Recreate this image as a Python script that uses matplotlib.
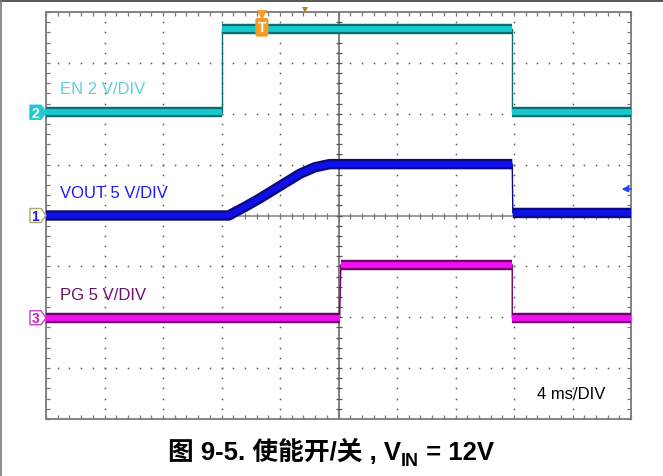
import numpy as np
import matplotlib
matplotlib.use("Agg")
import matplotlib.pyplot as plt
import matplotlib.transforms as mtransforms
from matplotlib.patches import Polygon
from matplotlib.lines import Line2D

plt.rcParams['font.family'] = ['Liberation Sans', 'DejaVu Sans']

# screen in divisions: x = time (4 ms/DIV), y = vertical division (0 = bottom)
en_t = [0, 3.01, 3.01, 7.97, 7.97, 10]
en_v = [6.03, 6.03, 7.67, 7.67, 6.03, 6.03]

vout_t = [0, 3.12, 3.40, 3.66, 4.00, 4.34, 4.60, 4.85, 7.97, 7.98, 10]
vout_v = [4.0, 4.0, 4.17, 4.34, 4.58, 4.82, 4.95, 5.01, 5.01, 4.05, 4.05]

pg_t = [0, 5.02, 5.04, 7.97, 7.97, 10]
pg_v = [1.99, 1.99, 3.03, 3.03, 1.99, 1.99]

labels = ['EN 2 V/DIV', 'VOUT 5 V/DIV', 'PG 5 V/DIV']
label_y = [6.50, 4.46, 2.44]
label_colors = ['#5fd0d8', '#1a1aff', '#6b0f6b']

W, H = 663, 477
fig = plt.figure(figsize=(W / 100, H / 100), dpi=100)
ax = fig.add_axes([46 / W, 1 - 420 / H, 585 / W, 407 / H])
ax.set_xlim(0, 10)
ax.set_ylim(0, 8)

# border with inward minor ticks
for s in ax.spines.values():
    s.set_color('#7a7a7a')
    s.set_linewidth(1.3)
ax.set_xticks(np.arange(0, 10.01, 0.2))
ax.set_yticks(np.arange(0, 8.01, 0.2))
ax.tick_params(direction='in', length=3, width=0.9, color='#777777',
               top=True, right=True, labelbottom=False, labelleft=False)

# dotted graticule
grid_c = '#555555'
pts_y = np.arange(0.2, 8, 0.2)
pts_x = np.arange(0.2, 10, 0.2)
for gx in [1, 2, 3, 4, 6, 7, 8, 9]:
    ax.plot(np.full(len(pts_y), gx), pts_y, ls='none', marker='s', ms=1.1,
            mew=0, color=grid_c, zorder=1)
for gy in [1, 2, 3, 5, 6, 7]:
    ax.plot(pts_x, np.full(len(pts_x), gy), ls='none', marker='s', ms=1.1,
            mew=0, color=grid_c, zorder=1)

# centre cross with ticks
ax.axvline(5, color='#6a6a6a', lw=1.2, zorder=1)
ax.axhline(4, color='#8a8a8a', lw=1.2, zorder=1)
ax.plot(pts_x, np.full(len(pts_x), 4), ls='none', marker='|', ms=5,
        mew=0.9, color='#777777', zorder=1)
ax.plot(np.full(len(pts_y), 5), pts_y, ls='none', marker='_', ms=5,
        mew=0.9, color='#555555', zorder=1)


def trace(t, v, dark, bright):
    t = np.asarray(t, float)
    v = np.asarray(v, float)
    idx = np.where(np.diff(t) < 0.05)[0] + 1
    tb = np.insert(t, idx, np.nan)
    vb = np.insert(v, idx, np.nan)
    ax.plot(t, v, color=dark, lw=1.0, zorder=3)
    ax.plot(tb, vb, color=dark, lw=7.5, solid_capstyle='butt', zorder=3)
    ax.plot(tb, vb, color=bright, lw=4.2, solid_capstyle='butt', zorder=4)


trace(en_t, en_v, '#0a6e70', '#14c8cc')
trace(vout_t, vout_v, '#0a0a80', '#1010e8')
trace(pg_t, pg_v, '#700070', '#f010f0')

for txt, y, c in zip(labels, label_y, label_colors):
    ax.text(0.24, y, txt, color=c, fontsize=12, va='center', ha='left')
ax.text(8.39, 0.51, '4 ms/DIV', color='black', fontsize=12, va='center', ha='left')


def ch_marker(y, num, face, edge, tc):
    tr = mtransforms.ScaledTranslation(0, y, ax.transData)
    verts = [(-16, -7), (-5, -7), (0, 0), (-5, 7), (-16, 7)]
    ax.add_patch(Polygon(verts, closed=True, transform=tr, clip_on=False,
                         fc=face, ec=edge, lw=1.0, zorder=6))
    ax.text(-10.5, -0.5, num, transform=tr, ha='center', va='center',
            color=tc, fontsize=10, fontweight='bold', clip_on=False, zorder=7)


ch_marker(en_v[0], '2', '#22c8d2', '#22c8d2', 'white')
ch_marker(vout_v[0], '1', 'white', '#a8a860', '#2020d0')
ch_marker(pg_v[0], '3', 'white', '#c040c0', '#c020c0')

# trigger markers
ax.plot(3.69, 7.94, marker='v', ms=7, color='#f39c26', mew=0, clip_on=False, zorder=8)
ax.text(3.69, 7.70, 'T', ha='center', va='center', color='white', fontsize=10,
        fontweight='bold', zorder=8,
        bbox=dict(boxstyle='round,pad=0.12', fc='#f39c26', ec='#f39c26'))
ax.plot(4.43, 8.03, marker='v', ms=4, color='#c08020', mew=0, clip_on=False, zorder=8)

# reference level arrow on the right
ax.annotate('', xy=(9.84, 4.52), xytext=(10.0, 4.52),
            arrowprops=dict(arrowstyle='-|>', color='#2040ff', lw=1.2,
                            mutation_scale=9, shrinkA=0, shrinkB=0))

# page frame lines
fig.add_artist(Line2D([0, 1], [1 - 1.5 / H, 1 - 1.5 / H], transform=fig.transFigure,
                      color='#555555', lw=1.4))
fig.add_artist(Line2D([1 / W, 1 / W], [0, 1], transform=fig.transFigure,
                      color='#777777', lw=1.2))

# caption with subscript
cap_font = ['Liberation Sans', 'Noto Sans CJK SC']
r = fig.canvas.get_renderer()
t1 = fig.text(0, 1 - 460 / H, '图 9-5. 使能开/关 , V', family=cap_font,
              fontsize=18.5, fontweight='bold', va='baseline', ha='left')
t2 = fig.text(0, 1 - 466 / H, 'IN', family=cap_font, fontsize=13,
              fontweight='bold', va='baseline', ha='left')
t3 = fig.text(0, 1 - 460 / H, ' = 12V', family=cap_font, fontsize=18.5,
              fontweight='bold', va='baseline', ha='left')
w1 = t1.get_window_extent(r).width
w2 = t2.get_window_extent(r).width
w3 = t3.get_window_extent(r).width
x0 = 331 - (w1 + w2 + w3) / 2
t1.set_x(x0 / W)
t2.set_x((x0 + w1) / W)
t3.set_x((x0 + w1 + w2) / W)

fig.savefig('out.png', dpi=100)
